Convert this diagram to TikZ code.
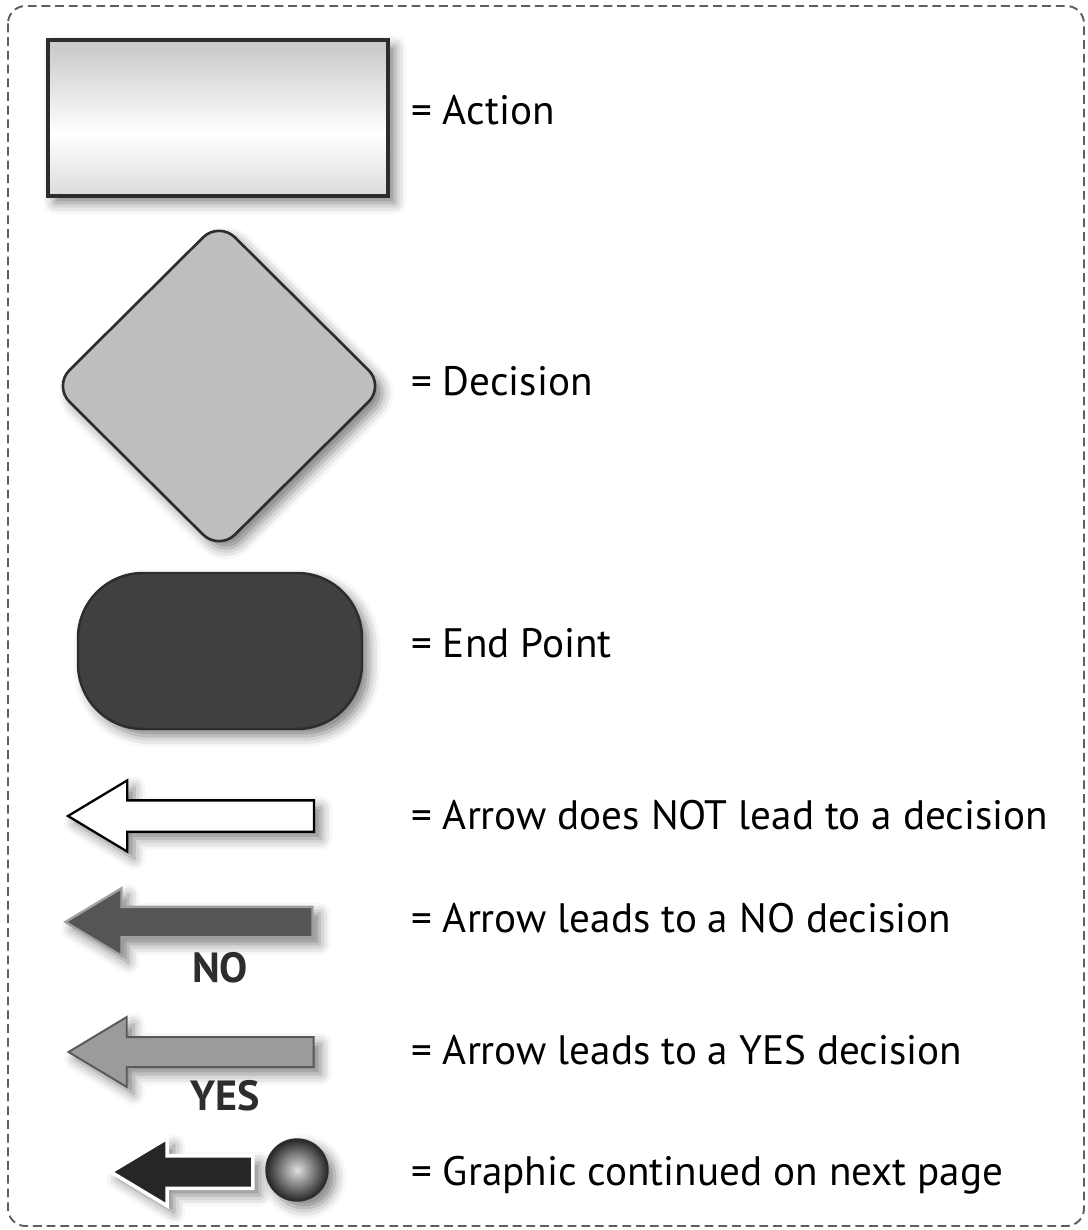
\documentclass[tikz,border=0pt]{standalone}
\usepackage{fontspec}
\setmainfont{PT Sans}
\usetikzlibrary{positioning, shapes.geometric, shapes.arrows, shadows.blur}
\definecolor{framecol}{RGB}{95, 95, 95}
\definecolor{edgecol}{RGB}{45, 45, 45}
\definecolor{decicol}{RGB}{190, 190, 190}
\definecolor{endcol}{RGB}{64, 64, 64}
\definecolor{nocol}{RGB}{85, 85, 85}
\definecolor{yescol}{RGB}{155, 155, 155}
\pgfdeclareverticalshading{actionshade}{100bp}{color(0bp)=(gray!55); color(20bp)=(gray!35); color(45bp)=(white); color(72bp)=(gray!40); color(100bp)=(gray!58)}

\begin{document}
\begin{tikzpicture}[
    softshadow/.style={blur shadow={shadow xshift=0.14cm, shadow yshift=-0.14cm, shadow blur radius=0.22cm, shadow opacity=50}},
    action/.style={rectangle, draw=edgecol, line width=1.8pt, shading=actionshade, minimum width=6.8cm, minimum height=3.12cm, softshadow},
    decision/.style={diamond, draw=edgecol, line width=1.5pt, fill=decicol, minimum width=6.64cm, minimum height=6.6cm, inner sep=0pt, rounded corners=0.45cm, softshadow},
    endpoint/.style={rectangle, draw=edgecol, line width=1.4pt, fill=endcol, minimum width=5.68cm, minimum height=3.12cm, rounded corners=1.3cm, softshadow},
    legarrow/.style={single arrow, shape border rotate=180, inner xsep=0pt, inner ysep=0.29cm, single arrow tip angle=62, single arrow head extend=0.4cm, minimum height=4.92cm, softshadow},
    legtext/.style={anchor=west, font=\fontsize{23.4}{28}\selectfont},
    answer/.style={font=\fontsize{24}{28}\selectfont\bfseries, text=edgecol}]

    \useasboundingbox (0,0) rectangle (21.74,-24.6);

    % dashed frame
    \draw[framecol, line width=1.1pt, dash pattern=on 5pt off 2.8pt, rounded corners=0.35cm]
        (0.16,-0.12) rectangle (21.68,-24.52);

    \node[action] (act) at (4.36,-2.36) {};
    \node[decision] (dec) at (4.38,-7.72) {};
    \node[endpoint] (endp) at (4.4,-13.02) {};

    \node[legarrow, draw=black, line width=1.3pt, fill=white] (plain) at (4.08,-16.32) {};
    \node[legarrow, draw=gray!75, line width=1.3pt, fill=nocol, inner ysep=0.28cm, single arrow head extend=0.37cm, minimum height=4.94cm] (noarr) at (4.03,-18.44) {};
    \node[legarrow, draw=gray!70!black, line width=1.1pt, fill=yescol, inner ysep=0.28cm, minimum height=4.9cm] (yesarr) at (4.07,-21.04) {};
    \node[legarrow, draw=white, line width=2pt, fill=black!85, single arrow head extend=0.35cm, minimum height=2.84cm] (contarr) at (3.91,-23.44) {};
    \node[circle, draw=edgecol, line width=0.8pt, inner color=gray!25, outer color=black!85, minimum size=1.24cm, softshadow] (ball) at (5.94,-23.40) {};

    \node[answer] (nolab) at (4.4,-19.36) {NO};
    \node[answer] (yeslab) at (4.5,-21.92) {YES};

    \node[legtext] (tact) at (8.1,-2.2) {= Action};
    \node[legtext] (tdec) at (8.1,-7.62) {= Decision};
    \node[legtext] (tend) at (8.1,-12.86) {= End Point};
    \node[legtext] (tplain) at (8.1,-16.3) {= Arrow does NOT lead to a decision};
    \node[legtext] (tno) at (8.1,-18.36) {= Arrow leads to a NO decision};
    \node[legtext] (tyes) at (8.1,-21.0) {= Arrow leads to a YES decision};
    \node[legtext] (tcont) at (8.1,-23.5) {= Graphic continued on next page};
  \end{tikzpicture}
\end{document}
